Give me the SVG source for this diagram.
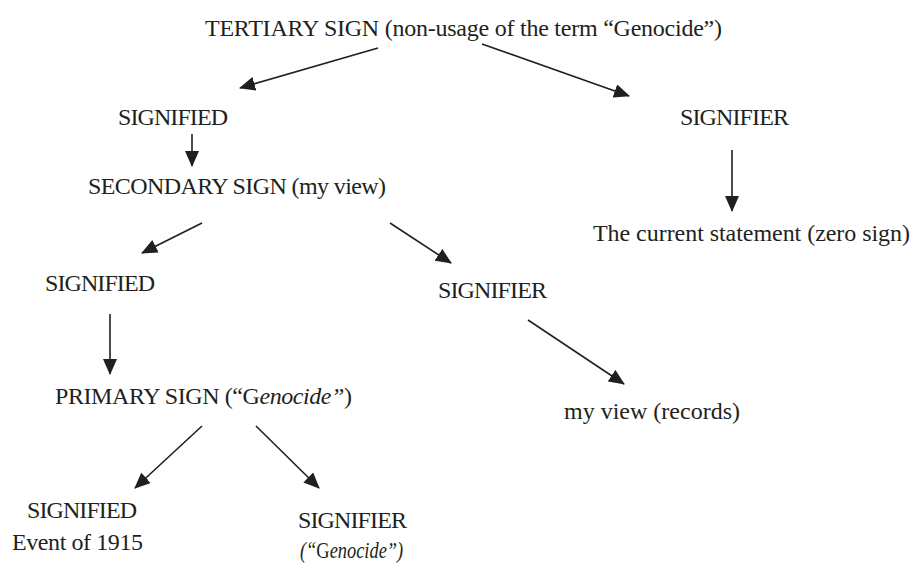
<svg xmlns="http://www.w3.org/2000/svg" width="912" height="563" viewBox="0 0 912 563">
<style>
text{font-family:"Liberation Serif","Times New Roman",serif;font-size:24px;fill:#231f20}
.it{font-style:italic}
.c line{stroke:#231f20;stroke-width:1.6;marker-end:url(#ah)}
</style>
<defs>
<marker id="ah" markerUnits="userSpaceOnUse" markerWidth="16" markerHeight="14" viewBox="0 0 16 14" refX="15" refY="7" orient="auto">
<path d="M0,0 L16,7 L0,14 Z" fill="#231f20"/>
</marker>
</defs>
<rect width="912" height="563" fill="#fff"/>
<g id="tertiary"><text x="205" y="36" textLength="517">TERTIARY SIGN (non-usage of the term “Genocide”)</text></g>
<g id="signified1"><text x="118" y="125" textLength="110">SIGNIFIED</text></g>
<g id="signifier1"><text x="680" y="125" textLength="109">SIGNIFIER</text></g>
<g id="secondary"><text x="88" y="194" textLength="298">SECONDARY SIGN (my view)</text></g>
<g id="current"><text x="593" y="241" textLength="317">The current statement (zero sign)</text></g>
<g id="signified2"><text x="45" y="291" textLength="110">SIGNIFIED</text></g>
<g id="signifier2"><text x="438" y="298" textLength="109">SIGNIFIER</text></g>
<g id="primary"><text x="55" y="404" textLength="297">PRIMARY SIGN (“G<tspan class="it">enocide”</tspan>)</text></g>
<g id="records"><text x="564" y="419" textLength="176">my view (records)</text></g>
<g id="signified3"><text x="27" y="518" textLength="110">SIGNIFIED</text><text x="12" y="550" textLength="131">Event of 1915</text></g>
<g id="signifier3"><text x="298" y="528" textLength="109">SIGNIFIER</text><text transform="translate(300,558) scale(0.8,1)" style="font-size:23px"><tspan class="it">(“</tspan>G<tspan class="it">enocide”)</tspan></text></g>
<g class="c" id="connectors">
<line x1="378" y1="48" x2="240" y2="88"/>
<line x1="482" y1="44" x2="629" y2="96"/>
<line x1="192" y1="134" x2="192" y2="166"/>
<line x1="732" y1="150" x2="732" y2="211"/>
<line x1="202" y1="223" x2="142" y2="253"/>
<line x1="390" y1="223" x2="451" y2="263"/>
<line x1="110" y1="314" x2="110" y2="374"/>
<line x1="528" y1="320" x2="624" y2="384"/>
<line x1="202" y1="426" x2="135" y2="488"/>
<line x1="256" y1="426" x2="319" y2="488"/>
</g>
</svg>
